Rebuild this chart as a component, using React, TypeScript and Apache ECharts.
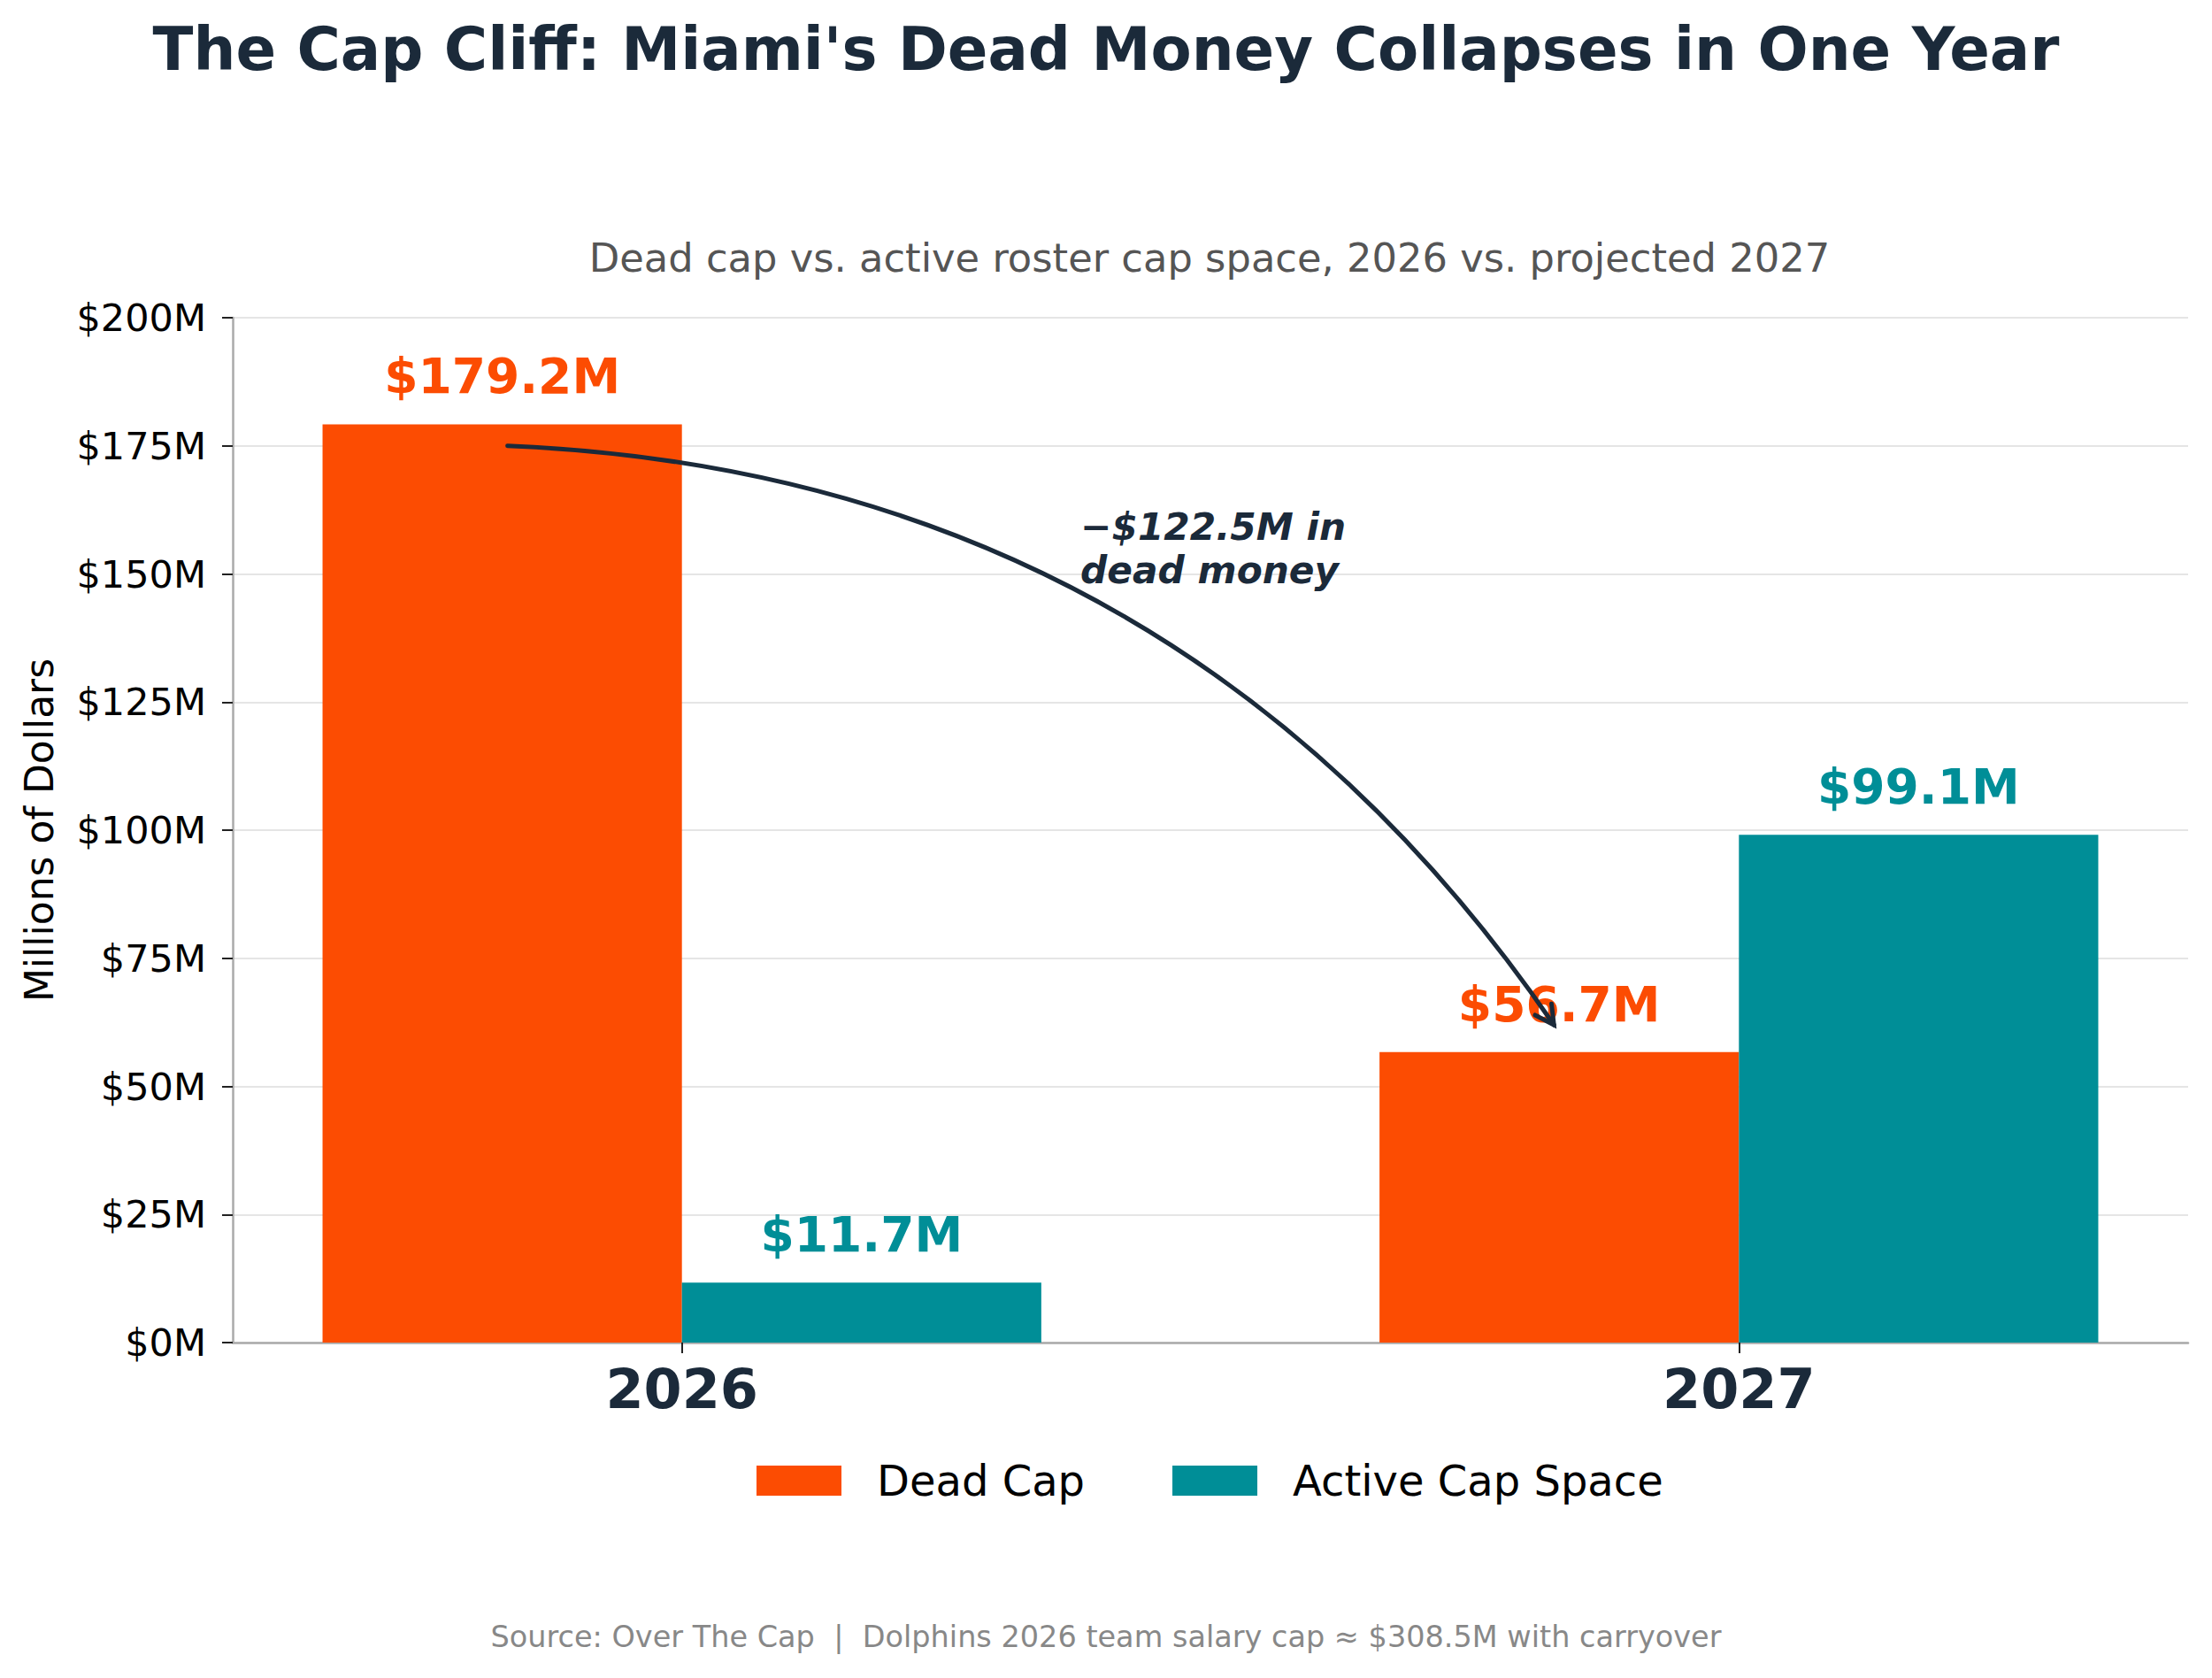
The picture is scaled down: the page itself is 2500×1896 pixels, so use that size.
import { useEffect, useRef } from 'react';
import * as echarts from 'echarts';

const FONT = "'DejaVu Sans', 'Noto Sans', sans-serif";
const NAVY = '#1b2a3a';
const ORANGE = '#fc4c02';
const TEAL = '#008e97';

const years = ['2026', '2027'];
const deadCap = [179.2, 56.7];
const activeCap = [11.7, 99.1];
const yTicks = [0, 200, 25]; // min, max, step

// annotation (data units)
const arrowFrom = [-0.165, 175];
const arrowTo = [0.825, 62];
const noteAt = [0.377, 155];
const noteText = '\u2212$122.5M in\ndead money';

const BAR_W = 0.34;
const ARC_RAD = 0.25;

function barSeries(name: string, values: number[], offset: number, color: string) {
  return {
    name,
    type: 'custom',
    itemStyle: { color },
    data: values.map((v, i) => [i, v]),
    renderItem: (_p: any, api: any) => {
      const i = api.value(0);
      const v = api.value(1);
      const [x0, y0] = api.coord([i + offset - BAR_W / 2, v]);
      const [x1, y1] = api.coord([i + offset + BAR_W / 2, 0]);
      return {
        type: 'group',
        children: [
          { type: 'rect', shape: { x: x0, y: y0, width: x1 - x0, height: y1 - y0 }, style: { fill: color } },
          {
            type: 'text',
            x: (x0 + x1) / 2,
            y: y0 - 54,
            style: {
              text: `$${v.toFixed(1)}M`,
              fill: color,
              fontSize: 55,
              fontWeight: 'bold',
              fontFamily: FONT,
              align: 'center',
              verticalAlign: 'middle',
              textAlign: 'center',
              textVerticalAlign: 'middle',
            },
          },
        ],
      };
    },
  };
}

export default function App() {
  const ref = useRef<HTMLDivElement>(null);

  useEffect(() => {
    document.body.style.margin = '0';
    if (!ref.current) return;
    const chart = echarts.init(ref.current, undefined, { renderer: 'svg' });

    chart.setOption({
      animation: false,
      backgroundColor: '#fff',
      textStyle: { fontFamily: FONT },
      graphic: [
        {
          type: 'text',
          x: 1250,
          y: 56,
          style: {
            text: "The Cap Cliff: Miami's Dead Money Collapses in One Year",
            fill: NAVY,
            fontSize: 67.3,
            fontWeight: 'bold',
            fontFamily: FONT,
            align: 'center',
            verticalAlign: 'middle',
            textAlign: 'center',
            textVerticalAlign: 'middle',
          },
        },
        {
          type: 'text',
          x: 1367,
          y: 291,
          style: {
            text: 'Dead cap vs. active roster cap space, 2026 vs. projected 2027',
            fill: '#555555',
            fontSize: 44.8,
            fontFamily: FONT,
            align: 'center',
            verticalAlign: 'middle',
            textAlign: 'center',
            textVerticalAlign: 'middle',
          },
        },
        {
          type: 'text',
          x: 1250,
          y: 1849,
          style: {
            text: 'Source: Over The Cap  |  Dolphins 2026 team salary cap \u2248 $308.5M with carryover',
            fill: '#888888',
            fontSize: 33.5,
            fontFamily: FONT,
            align: 'center',
            verticalAlign: 'middle',
            textAlign: 'center',
            textVerticalAlign: 'middle',
          },
        },
      ],
      legend: {
        data: ['Dead Cap', 'Active Cap Space'],
        left: 855,
        top: 1649,
        padding: 0,
        icon: 'rect',
        itemWidth: 96,
        itemHeight: 34,
        itemGap: 99,
        selectedMode: false,
        textStyle: { fontSize: 48, lineHeight: 48, color: '#000', fontFamily: FONT, padding: [0, 0, 0, 35] },
      },
      grid: { left: 263, right: 27, top: 359, bottom: 379 },
      xAxis: {
        type: 'value',
        min: -0.425,
        max: 1.425,
        splitLine: { show: false },
        axisLine: { show: true, onZero: false, lineStyle: { color: '#aaaaaa', width: 2.5 } },
        axisTick: { show: true, customValues: [0, 1], length: 12, lineStyle: { color: '#222', width: 2 } },
        axisLabel: {
          customValues: [0, 1],
          formatter: (v: number) => years[Math.round(v)] ?? '',
          fontSize: 62,
          lineHeight: 62,
          fontWeight: 'bold',
          color: NAVY,
          margin: 21,
        },
      },
      yAxis: {
        type: 'value',
        min: yTicks[0],
        max: yTicks[1],
        interval: yTicks[2],
        name: 'Millions of Dollars',
        nameLocation: 'middle',
        nameGap: 197,
        nameTextStyle: { fontSize: 44, color: '#000', fontFamily: FONT },
        axisLine: { show: true, onZero: false, lineStyle: { color: '#aaaaaa', width: 2.5 } },
        axisTick: { show: true, length: 12, lineStyle: { color: '#222', width: 2 } },
        axisLabel: { formatter: (v: number) => `$${v}M`, fontSize: 43, color: '#000', margin: 30 },
        splitLine: { show: true, lineStyle: { color: '#e5e5e5', width: 2 } },
      },
      series: [
        barSeries('Dead Cap', deadCap, -BAR_W / 2, ORANGE),
        barSeries('Active Cap Space', activeCap, BAR_W / 2, TEAL),
        {
          name: 'note',
          type: 'custom',
          silent: true,
          data: [[0, 0]],
          z: 10,
          renderItem: (_p: any, api: any) => {
            const [sx, sy] = api.coord(arrowFrom);
            const [ex, ey] = api.coord(arrowTo);
            const dx = ex - sx;
            const dy = ey - sy;
            const cx = (sx + ex) / 2 + ARC_RAD * dy;
            const cy = (sy + ey) / 2 - ARC_RAD * dx;
            const tl = Math.hypot(ex - cx, ey - cy);
            const bx = -(ex - cx) / tl;
            const by = -(ey - cy) / tl;
            const L = 24;
            const a = (28 * Math.PI) / 180;
            const w1 = [ex + L * (bx * Math.cos(a) - by * Math.sin(a)), ey + L * (bx * Math.sin(a) + by * Math.cos(a))];
            const w2 = [ex + L * (bx * Math.cos(-a) - by * Math.sin(-a)), ey + L * (bx * Math.sin(-a) + by * Math.cos(-a))];
            const [tx, ty] = api.coord(noteAt);
            return {
              type: 'group',
              children: [
                {
                  type: 'bezierCurve',
                  shape: { x1: sx, y1: sy, x2: ex, y2: ey, cpx1: cx, cpy1: cy },
                  style: { stroke: NAVY, lineWidth: 5, fill: 'none', lineCap: 'round' },
                },
                {
                  type: 'polyline',
                  shape: { points: [w1, [ex, ey], w2] },
                  style: { stroke: NAVY, lineWidth: 5, fill: 'none', lineCap: 'round', lineJoin: 'miter' },
                },
                {
                  type: 'text',
                  x: tx,
                  y: ty,
                  style: {
                    text: noteText,
                    fill: NAVY,
                    fontSize: 42.3,
                    lineHeight: 49,
                    fontWeight: 'bold',
                    fontStyle: 'italic',
                    fontFamily: FONT,
                    align: 'left',
                    verticalAlign: 'middle',
                    textAlign: 'left',
                    textVerticalAlign: 'middle',
                  },
                },
              ],
            };
          },
        },
      ],
    });

    return () => chart.dispose();
  }, []);

  return <div ref={ref} style={{ width: 2500, height: 1896 }} />;
}
